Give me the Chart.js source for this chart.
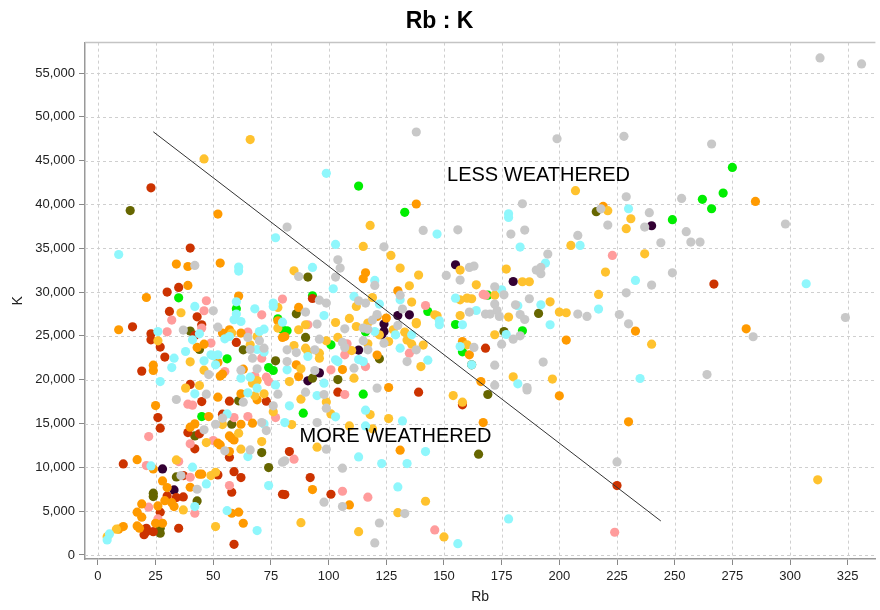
<!DOCTYPE html>
<html>
<head>
<meta charset="utf-8">
<title>Rb : K</title>
<script src="https://cdn.jsdelivr.net/npm/chart.js@4.4.1/dist/chart.umd.min.js"></script>
<style>
  html, body { margin: 0; padding: 0; background: #fff; }
  #wrap { width: 880px; height: 610px; }
</style>
</head>
<body>
<div id="wrap"><canvas id="rbk"></canvas></div>
<script>
// samples as [Rb, K], one list per sample group
const grayPts = [[138,48270],[199,47500],[228,47770],[184,40080],[229,40880],[218,39500],[239,39060],[253,40690],[313,56720],[331,56040],[266,46900],[255,36890],[257,35710],[261,35710],[298,37770],[324,27100],[284,24900],[264,20590],[225,10620],[186,18840],[221,37650],[237,37420],[179,36620],[185,37080],[208,36470],[244,35630],[195,34340],[190,32510],[192,32810],[192,32090],[249,32200],[240,30800],[172,30610],[176,29690],[187,29240],[229,29920],[181,28550],[172,28630],[173,27900],[168,27490],[170,27490],[174,27220],[183,27440],[185,26870],[208,27490],[212,27220],[226,27440],[230,26380],[180,24630],[183,25010],[175,24060],[172,21660],[193,22010],[172,19380],[186,19110],
  [82,37420],[141,37040],[156,37110],[124,35170],[104,33690],[105,32740],[87,31780],[103,31710],[161,32810],[163,32970],[151,31900],[157,31370],[120,30760],[96,29080],[99,28740],[113,29000],[116,28740],[131,29650],[132,28060],[161,27720],[90,27720],[107,25810],[95,26350],[121,27440],[119,26800],[115,25890],[130,26190],[117,25770],[124,24170],[138,23410],[134,22070],[117,23410],[115,24440],[111,21320],[106,24250],[107,23680],[96,24630],[94,23410],[86,23100],[82,23410],[82,22070],[94,21050],[121,19040],[163,23680],
  [42,33040],[50,27870],[37,25660],[52,26000],[48,20590],[65,24820],[70,24440],[66,23450],[72,23600],[67,22460],[69,21240],[62,21090],
  [34,17740],[47,18350],[63,17440],[78,18350],[76,17020],[54,15610],[46,14280],[51,14920],[71,15110],[73,14200],[55,11880],[66,11990],[80,10590],[36,9060],[43,7500],
  [90,18580],[98,18310],[99,16750],[95,15110],[99,12070],[81,10740],[106,9900],[98,6020],[106,5520],[133,4720],[122,3650],[120,1370]];

const cyanPts = [[99,43550],[230,39510],[178,38940],[307,30950],[178,4110],[178,38520],[183,35140],[209,35320],[194,33310],[233,31330],[175,30260],[192,28550],[182,28440],[217,28060],[196,26270],[177,25160],[235,20140],[182,19530],
  [147,36620],[103,35440],[93,32810],[120,31330],[102,30380],[111,29500],[122,28630],[131,29120],[148,26720],[148,26270],[155,29310],[158,26270],[164,27900],[98,27330],[136,25120],[120,25500],[129,25120],[131,23600],[143,22230],[113,22300],[115,22070],[103,22270],[104,22070],[91,22650],[82,21130],[98,19610],[157,23790],[162,21700],
  [9,34290],[77,36200],[61,32850],[61,32400],[60,28890],[42,28360],[60,27490],[68,28090],[59,26840],[62,26640],[26,25500],[44,25240],[41,24550],[38,23220],[33,22460],[32,21390],[46,22150],[49,22840],[50,22730],[52,22840],[51,21700],[27,19790],[55,24670],[57,24930],[70,25500],[72,25770],[69,23450],[72,23150],[66,20290],[62,20180],[69,19040],[77,19410],[76,28740],[76,28360],[80,26570],
  [42,18390],[65,18500],[56,16100],[72,14960],[65,11230],[23,10160],[41,10020],[74,7920],[47,8110],[42,5520],[5,2400],[4,1710],[56,5060],[69,2780],
  [83,17020],[95,18190],[103,15760],[116,16520],[132,15300],[81,15110],[116,14730],[142,11800],[113,11190],[123,10430],[134,10430],[130,7770],[156,1290]];

const goldPts = [[66,47400],[46,45200],[207,41570],[221,39290],[231,38370],[229,37230],[205,35320],[237,34370],[177,32630],[220,32280],[184,31180],[187,31180],[172,29650],[196,28890],[217,29730],[178,27150],[200,27720],[203,27640],[172,25130],[240,24060],[180,20330],[197,20070],[312,8570],
  [118,37610],[115,35210],[127,34180],[131,32740],[85,32430],[139,31940],[157,32510],[135,30720],[164,30830],[112,28360],[119,29380],[136,28860],[146,27410],[147,27290],[162,29240],[160,29310],[157,29120],[157,27330],[109,26990],[103,26530],[90,26270],[87,25700],[138,26530],[138,26380],[117,26460],[112,26070],[128,25700],[133,25430],[122,25120],[126,24360],[134,24520],[136,24060],[141,23950],[140,21500],[117,24100],[110,23330],[104,24820],[99,24440],[96,23030],[96,22460],[90,23600],[91,23220],[88,21240],[83,19790],[111,20180],[85,23900],[160,23980],
  [36,27640],[26,24440],[40,22040],[46,21090],[44,19340],[38,19040],[58,25320],[69,24930],[66,23980],[67,19610],[69,19900],[78,28250],[78,25890],
  [68,18160],[72,18390],[76,16330],[47,12830],[54,14880],[61,13900],[62,12070],[71,12940],[34,10850],[49,9060],[51,9440],[8,2940],[4,2090],[37,5140],[51,3240],
  [88,17780],[99,17470],[101,16100],[118,16020],[126,15570],[84,14880],[109,14730],[119,14390],[95,12300],[154,18190],[158,17440],[142,6130],[130,4830],[88,3690],[113,2660],[150,2060]];

const orangePts = [[52,38900],[138,40050],[285,40350],[219,39780],[281,25810],[200,18160],[167,15110],[230,15190],[203,24520],[233,25550],
  [116,32200],[115,31520],[130,30150],[87,28250],[121,27220],[125,27030],[121,22810],[106,21160],[86,21700],[87,20360],[126,19110],[158,24360],[161,22840],[166,19790],[81,24930],
  [34,33200],[39,32920],[53,33310],[39,30760],[21,29380],[61,29540],[9,25700],[46,24060],[43,23680],[24,21660],[24,21050],[52,21960],[53,20410],[54,20640],[54,25320],[57,25700],[62,25320],[63,21200],[78,26720],[80,24820],
  [25,17050],[52,18010],[62,18390],[69,17700],[48,15790],[42,14960],[40,14580],[62,14920],[67,15040],[57,13590],[58,13330],[59,13130],[52,12760],[53,12560],[57,11800],[17,10880],[24,9820],[44,9220],[45,9220],[40,7730],[30,7690],[28,8450],[29,6200],[32,5970],[33,5520],[19,5820],[26,5600],[17,4880],[19,4310],[25,3620],[28,3620],[17,3310],[18,3050],[11,3240],[9,2940],[58,4760],[61,4880],[63,3620],
  [131,11960],[93,7460],[109,5710]];

const salmonPts = [[224,2590],[223,34180],[168,29650],
  [142,28470],[167,29730],[91,26270],[135,23030],[107,22840],[101,21130],[116,21500],[108,24100],
  [47,29010],[46,27870],[71,27410],[32,26800],[45,25890],[30,25470],[49,24180],[65,25430],[71,22460],[55,20930],[68,20440],[73,20290],[74,19790],[80,29200],
  [22,13510],[39,17210],[41,17100],[77,15680],[59,15680],[65,15790],[50,13050],[40,12680],[21,10200],[35,10660],[40,8870],[57,7920],[42,4760],[22,5450],[26,4110],
  [107,18310],[85,10930],[106,7270],[117,6590],[146,2860]];

const rustPts = [[23,41900],[267,30910],[225,7920],[168,23600],[93,29270],
  [40,35020],[35,30530],[30,30000],[31,27790],[43,27180],[45,26270],[15,26040],[23,25240],[23,24550],[27,23720],[42,25050],[60,24250],[29,22580],[19,20980],[40,19460],
  [45,17510],[57,17550],[73,17550],[26,15680],[27,14470],[54,16070],[39,13970],[44,13820],[42,12110],[57,11160],[11,10390],[37,9060],[52,9140],[59,9510],[62,8830],[58,7160],[37,6620],[34,6550],[30,6740],[27,4880],[24,2660],[21,3050],[20,2320],[21,2660],[35,3050],[59,1220],[80,6930],
  [104,18580],[139,18580],[158,17130],[83,11800],[92,8830],[81,6890],[101,6930]];

const olivePts = [[14,39300],[216,39170],[169,18310],[191,27560],[176,25500],
  [91,31710],[86,27520],[90,24820],[122,22380],[104,20020],[93,20180],[162,21700],
  [40,25550],[44,23450],[63,23410],[77,22150],
  [61,17590],[42,13590],[58,14920],[71,11690],[74,9970],[34,8910],[43,6170],[24,7050],[24,6660],[27,3050],[27,2480],
  [165,11500]];

const greenPts = [[113,42100],[133,39100],[275,44230],[271,41300],[262,40580],[266,39510],[249,38260],[169,29650],[184,25580],
  [93,29580],[143,27790],[155,26300],[116,25470],[101,23980],[158,23180],[82,25580],
  [35,29350],[60,28090],[56,22380],[74,21390],[76,21050],[78,26950],[80,25700],
  [45,15790],[115,18350],[89,16180]];

const plumPts = [[240,37570],[180,31210],[155,33120],[130,27330],[135,27410],[124,26350],[124,25500],[123,25120],[113,23380],[96,20780],[91,19870],[28,9820],[33,7420]];

// weathering divide
const divideRb = [24, 244];
const divideK = [48290, 3880];

const noteTexts = ['LESS WEATHERED', 'MORE WEATHERED'];
const noteRb = [191, 129];
const noteK = [43260, 13470];

const rbTicks = [0, 25, 50, 75, 100, 125, 150, 175, 200, 225, 250, 275, 300, 325];
const kTicks = [0, 5000, 10000, 15000, 20000, 25000, 30000, 35000, 40000, 45000, 50000, 55000];

const groups = [grayPts, cyanPts, goldPts, orangePts, salmonPts, rustPts, olivePts, greenPts, plumPts];
const groupColors = ['#c8c8c8', '#8ff7fc', '#ffc22e', '#ff9a00', '#ff9c9c', '#cc3300', '#666600', '#00ee00', '#330033'];

const FONT = "'Liberation Sans', Arial, sans-serif";
const toXY = arr => arr.map(p => ({ x: p[0], y: p[1] }));

const datasets = [{
  type: 'line',
  data: divideRb.map((r, i) => ({ x: r, y: divideK[i] })),
  borderColor: '#333',
  borderWidth: 1,
  pointRadius: 0,
  fill: false
}];
groups.forEach((g, i) => {
  datasets.push({
    data: toXY(g),
    backgroundColor: groupColors[i],
    borderWidth: 0,
    pointRadius: 4.6,
    pointHoverRadius: 4.6
  });
});

// dashed grid under the points, text notes and top frame line over them
const notes = {
  id: 'notes',
  beforeDatasetsDraw(chart) {
    const { ctx, chartArea: a, scales: { x, y } } = chart;
    ctx.save();
    ctx.strokeStyle = '#cfcfcf';
    ctx.lineWidth = 1;
    ctx.setLineDash([3, 3]);
    ctx.beginPath();
    rbTicks.forEach(v => {
      const px = Math.round(x.getPixelForValue(v)) + 0.5;
      ctx.moveTo(px, a.top);
      ctx.lineTo(px, a.bottom);
    });
    kTicks.forEach(v => {
      const py = Math.round(y.getPixelForValue(v)) + 0.5;
      ctx.moveTo(a.left, py);
      ctx.lineTo(a.right, py);
    });
    ctx.stroke();
    ctx.restore();
  },
  afterDatasetsDraw(chart) {
    const { ctx, scales: { x, y } } = chart;
    ctx.save();
    ctx.font = '20px ' + FONT;
    ctx.fillStyle = '#000';
    ctx.textAlign = 'center';
    ctx.textBaseline = 'middle';
    noteTexts.forEach((t, i) => ctx.fillText(t, x.getPixelForValue(noteRb[i]), y.getPixelForValue(noteK[i])));
    ctx.restore();
  },
  afterDraw(chart) {
    const { ctx, chartArea: a } = chart;
    ctx.save();
    ctx.strokeStyle = '#c4c4c4';
    ctx.lineWidth = 1.5;
    ctx.beginPath();
    ctx.moveTo(a.left, a.top);
    ctx.lineTo(a.right, a.top);
    ctx.stroke();
    ctx.restore();
  }
};

const useTicks = list => s => { s.ticks = list.map(v => ({ value: v })); };

new Chart(document.getElementById('rbk'), {
  type: 'scatter',
  data: { datasets },
  options: {
    animation: false,
    responsive: true,
    maintainAspectRatio: false,
    layout: { padding: { right: 1 } },
    plugins: {
      legend: { display: false },
      tooltip: { enabled: false },
      title: {
        display: true,
        text: 'Rb : K',
        color: '#000',
        font: { family: FONT, size: 23, weight: 'bold' },
        padding: { top: 8, bottom: 7 }
      }
    },
    scales: {
      x: {
        type: 'linear',
        min: -5.6,
        max: 337,
        afterBuildTicks: useTicks(rbTicks),
        afterFit: s => { s.height = 51; },
        ticks: { color: '#222', padding: 4, font: { family: FONT, size: 13 } },
        grid: { drawOnChartArea: false, color: '#888', tickLength: 6 },
        border: { color: '#999', width: 1.5 },
        title: { display: true, text: 'Rb', color: '#222', font: { family: FONT, size: 14 }, padding: { top: 0, bottom: 4 } }
      },
      y: {
        type: 'linear',
        min: -460,
        max: 58470,
        afterBuildTicks: useTicks(kTicks),
        afterFit: s => { s.width = 85; },
        ticks: { color: '#222', padding: 4, font: { family: FONT, size: 13 },
          callback: v => v.toLocaleString('en-US') },
        grid: { drawOnChartArea: false, color: '#888', tickLength: 6 },
        border: { color: '#999', width: 1.5 },
        title: { display: true, text: 'K', color: '#222', font: { family: FONT, size: 14 }, padding: { top: 10, bottom: 0 } }
      }
    }
  },
  plugins: [notes]
});
</script>
</body>
</html>
